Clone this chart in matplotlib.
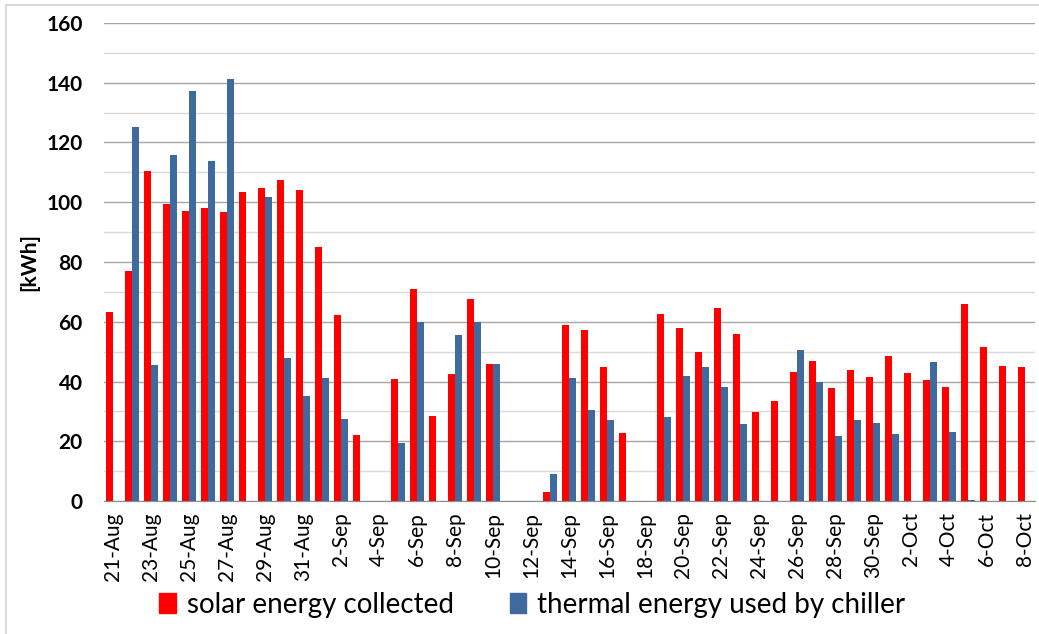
import numpy as np
import pandas as pd
import matplotlib.pyplot as plt
from matplotlib.patches import Patch

# daily values, 21-Aug .. 8-Oct (49 days), nan = no bar
days = pd.date_range("2015-08-21", periods=49, freq="D")
day_labels = [f"{d.day}-{d.strftime('%b')}" for d in days]

solar = [63.3, 76.9, 110.6, 99.3, 97.2, 98.0, 96.8, 103.4, 104.7, 107.3,
         104.1, 85.0, 62.4, 22.2, np.nan, 41.0, 70.9, 28.3, 42.6, 67.5,
         45.9, np.nan, np.nan, 2.9, 58.8, 57.4, 44.7, 22.6, np.nan, 62.7,
         57.8, 49.8, 64.6, 55.9, 29.9, 33.6, 43.1, 46.7, 37.7, 43.9,
         41.5, 48.4, 43.0, 40.4, 38.3, 65.8, 51.7, 45.1, 44.7]

chiller = [np.nan, 125.3, 45.4, 115.9, 137.4, 113.9, 141.4, np.nan, 101.6, 47.7,
           35.3, 41.3, 27.5, np.nan, np.nan, 19.5, 59.8, np.nan, 55.4, 59.8,
           46.0, np.nan, np.nan, 9.1, 41.3, 30.6, 27.2, np.nan, np.nan, 28.2,
           42.0, 44.7, 38.3, 25.9, np.nan, np.nan, 50.4, 40.0, 21.8, 27.2,
           26.2, 22.5, np.nan, 46.4, 23.2, 0.3, np.nan, np.nan, np.nan]

RED = "#ff0000"
BLUE = "#3e6a9e"

plt.rcParams["font.family"] = ["Lato", "DejaVu Sans"]

fig = plt.figure(figsize=(10.39, 6.34), dpi=100)
ax = fig.add_axes([103.5 / 1039, 133 / 634, 931 / 1039, 478 / 634])

x = np.arange(len(days))
w = 0.37
ax.bar(x - 0.2, solar, width=w, color=RED, zorder=3)
ax.bar(x + 0.2, chiller, width=w, color=BLUE, zorder=3)

ax.set_xlim(-0.5, len(days) - 0.5)
ax.set_ylim(0, 160)
ax.set_yticks(np.arange(0, 161, 20))
ax.set_yticks(np.arange(10, 160, 20), minor=True)
ax.tick_params(axis="y", which="both", length=0, pad=15, labelsize=15)
for lbl in ax.get_yticklabels():
    lbl.set_fontweight("bold")
ax.grid(axis="y", which="major", color="#a6a6a6", lw=1, zorder=0)
ax.grid(axis="y", which="minor", color="#d9d9d9", lw=1, zorder=0)

ax.set_xticks(x[::2])
ax.set_xticklabels(day_labels[::2], rotation=90, fontsize=15)
ax.tick_params(axis="x", length=0, pad=8)

for side in ["top", "right", "left"]:
    ax.spines[side].set_visible(False)
ax.spines["bottom"].set_color("#8c8c8c")
ax.spines["bottom"].set_zorder(4)

ax.set_ylabel("[kWh]", fontsize=15, fontweight="bold", labelpad=5)

handles = [Patch(color=RED, label="solar energy collected"),
           Patch(color=BLUE, label="thermal energy used by chiller")]
fig.legend(handles=handles, loc="center", bbox_to_anchor=(0.5125, 1 - 605 / 634),
           ncol=2, frameon=False, fontsize=20, handlelength=0.6, handleheight=0.75,
           handletextpad=0.4, columnspacing=2.0)

# light outer chart border
fig.patches.append(plt.Rectangle((6 / 1039, -0.01), 1.02, 1 - 5 / 634 + 0.01,
                                 transform=fig.transFigure, fill=False,
                                 edgecolor="#d9d9d9", lw=1.5))

fig.savefig("out.png", dpi=100)
